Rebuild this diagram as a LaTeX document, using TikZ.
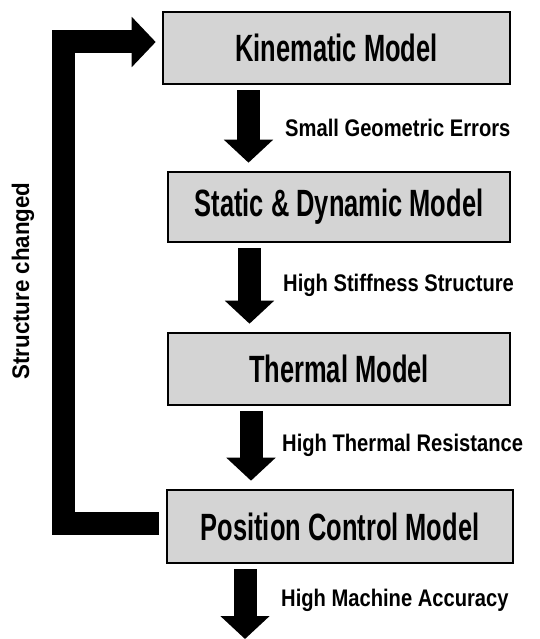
\documentclass[tikz,border=0pt]{standalone}
\usepackage{fontspec}
\usetikzlibrary{arrows.meta,calc}
\newfontfamily\boxfont{Liberation Sans}[FakeStretch=0.67]
\newfontfamily\lblfont{Liberation Sans}[FakeStretch=0.84]
\newfontfamily\sidefont{Liberation Sans}[FakeStretch=0.93]
\definecolor{boxgray}{gray}{0.83}
\begin{document}
\begin{tikzpicture}[x=1pt,y=-1pt,
  model/.style={draw=black,line width=2.6pt,fill=boxgray,inner sep=0pt,
    font=\boxfont\bfseries\fontsize{38}{40}\selectfont},
  lbl/.style={anchor=west,inner sep=0pt,font=\lblfont\bfseries\fontsize{24}{26}\selectfont},
  down/.style={line width=23pt,-{Triangle[width=48pt,length=23pt]},shorten <=5pt,shorten >=8pt},
  fb/.style={line width=23pt,line join=miter,-{Triangle[width=49pt,length=24pt]}}]
\useasboundingbox (0,0) rectangle (539,639);
\node[model,minimum width=347pt,minimum height=72pt] (kin) at (336.5,48) {Kinematic Model};
\node[model,minimum width=342pt,minimum height=70pt] (sta) at (339,207) {Static \& Dynamic Model};
\node[model,minimum width=342pt,minimum height=72pt] (the) at (339,369) {Thermal Model};
\node[model,minimum width=346pt,minimum height=73pt] (pos) at (340,526.5) {Position Control Model};
\coordinate (x1) at (248.5,0);
\coordinate (x2) at (249.5,0);
\coordinate (x3) at (251,0);
\coordinate (x4) at (245,0);
\coordinate (endpt) at (245,647);
\draw[down] (kin.south -| x1) -- (sta.north -| x1);
\draw[down] (sta.south -| x2) -- (the.north -| x2);
\draw[down] (the.south -| x3) -- (pos.north -| x3);
\draw[down] (pos.south -| x4) -- (endpt);
\node[lbl] (l1) at (285,128) {Small Geometric Errors};
\node[lbl] (l2) at (283,285) {High Stiffness Structure};
\node[lbl] (l3) at (282,445) {High Thermal Resistance};
\node[lbl] (l4) at (281,600) {High Machine Accuracy};
\coordinate (c1) at (63.5,523);
\coordinate (c2) at (63.5,42);
\draw[fb] ([xshift=-7pt,yshift=3.5pt]pos.west) -- (c1) -- (c2) -- ([xshift=-6pt,yshift=6pt]kin.west);
\node[anchor=center,rotate=90,inner sep=0pt,font=\sidefont\bfseries\fontsize{24}{26}\selectfont] (sc) at (23,281) {Structure changed};
\end{tikzpicture}
\end{document}
